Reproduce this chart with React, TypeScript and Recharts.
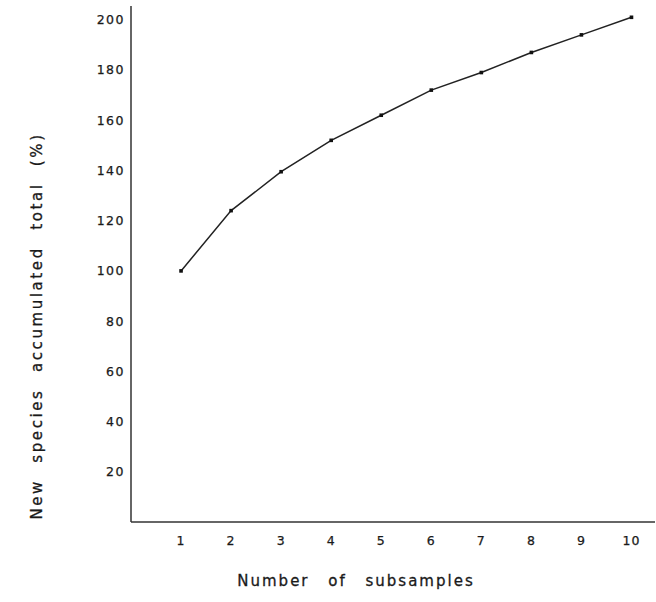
import React from 'react';
import { LineChart, Line, XAxis, YAxis, Label } from 'recharts';

// subsample number vs accumulated total of new species (%)
const subsamples = [1, 2, 3, 4, 5, 6, 7, 8, 9, 10];
const accumulated = [100, 124, 139.5, 152, 162, 172, 179, 187, 194, 201];
const xTicks = [1, 2, 3, 4, 5, 6, 7, 8, 9, 10];
const yTicks = [20, 40, 60, 80, 100, 120, 140, 160, 180, 200];

const data = subsamples.map((n, i) => ({ n, value: accumulated[i] }));

const FONT = '"DejaVu Sans", "Liberation Sans", Arial, sans-serif';
const INK = '#1a1a1a';

const SquareDot = (props: any) => {
  const { cx, cy } = props;
  if (cx == null || cy == null) return null;
  return <rect x={cx - 1.8} y={cy - 1.8} width={3.6} height={3.6} fill="#111" />;
};

export default function App() {
  return (
    <div style={{ position: 'absolute', left: 0, top: 0, width: 656, height: 602, background: '#fff' }}>
      <LineChart width={656} height={602} data={data} margin={{ top: 6, right: 1, bottom: 0, left: 0 }}>
        <XAxis
          dataKey="n"
          type="number"
          domain={[0, 10.47]}
          ticks={xTicks}
          tickLine={false}
          axisLine={{ stroke: '#333', strokeWidth: 1.5 }}
          tick={{ fill: INK, stroke: INK, strokeWidth: 0.25, fontSize: 12.5, fontFamily: FONT, letterSpacing: 1 }}
          tickMargin={8}
          height={80}
        >
          <Label
            value="Number of subsamples"
            position="insideBottom"
            offset={16}
            dx={-37}
            style={{ fill: INK, stroke: INK, strokeWidth: 0.3, fontSize: 15, fontFamily: FONT, letterSpacing: 2, wordSpacing: 12 }}
          />
        </XAxis>
        <YAxis
          type="number"
          domain={[0, 205.5]}
          ticks={yTicks}
          tickLine={false}
          axisLine={{ stroke: '#333', strokeWidth: 1.5 }}
          tick={{ fill: INK, stroke: INK, strokeWidth: 0.25, fontSize: 12.5, fontFamily: FONT, letterSpacing: 1.5 }}
          tickMargin={0}
          width={131}
        >
          <Label
            value="New species accumulated total (%)"
            angle={-90}
            position="insideLeft"
            offset={37}
            dy={62}
            style={{ fill: INK, stroke: INK, strokeWidth: 0.3, fontSize: 15, fontFamily: FONT, letterSpacing: 2.6, wordSpacing: 9, textAnchor: 'middle' }}
          />
        </YAxis>
        <Line
          type="linear"
          dataKey="value"
          stroke="#222"
          strokeWidth={1.5}
          dot={<SquareDot />}
          activeDot={false}
          isAnimationActive={false}
        />
      </LineChart>
    </div>
  );
}
